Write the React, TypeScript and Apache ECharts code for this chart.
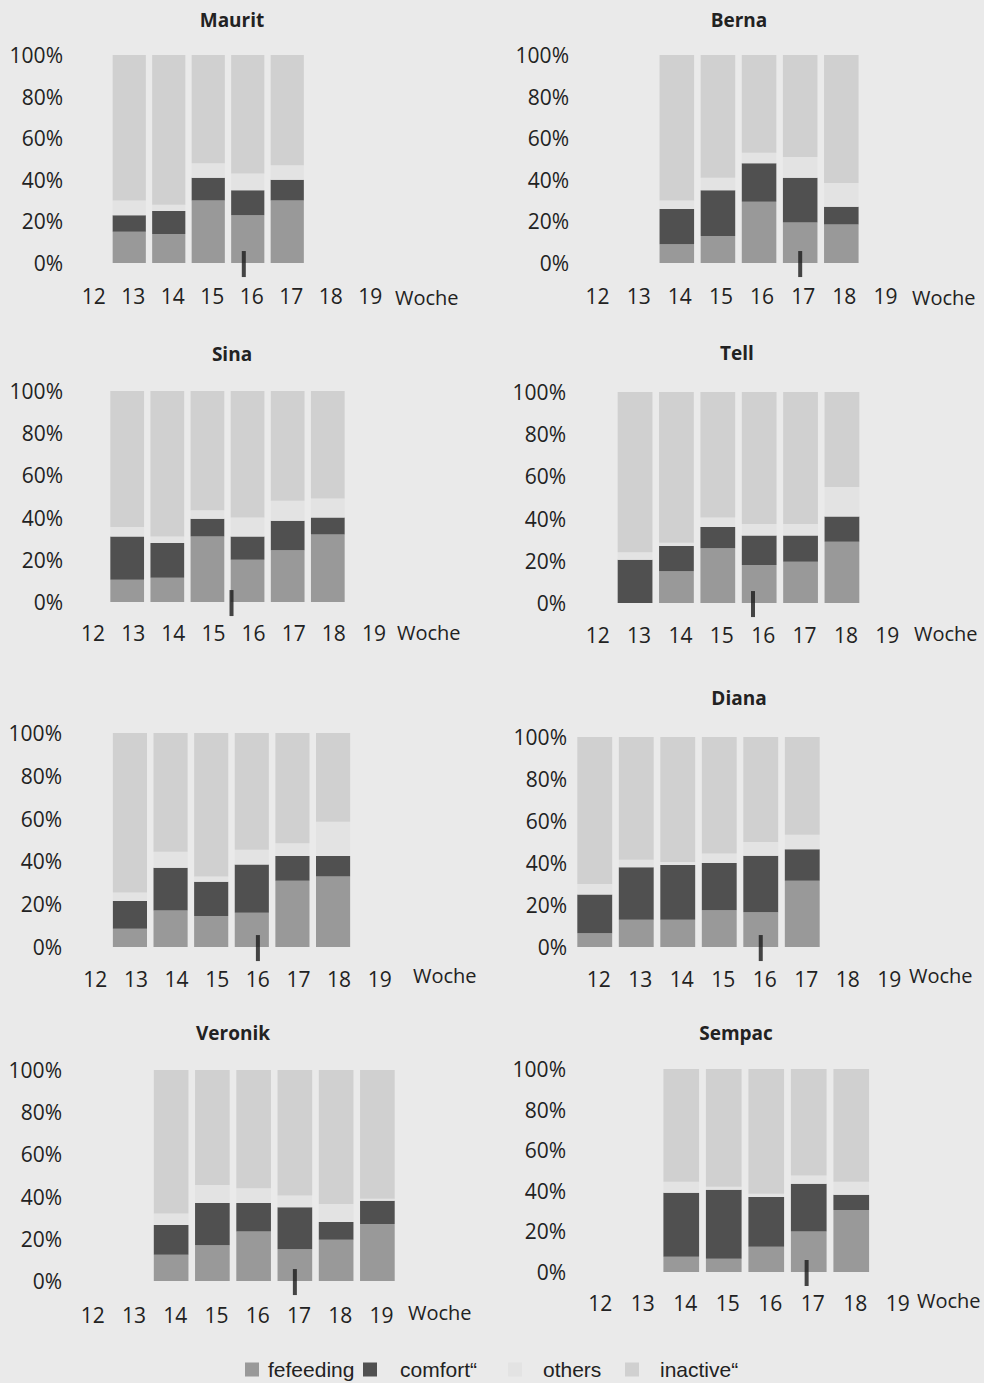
import React, { useEffect, useRef } from "react";
import * as echarts from "echarts";

// ---------- data ----------
const weeks = ["12", "13", "14", "15", "16", "17", "18", "19"];
const panelTitles = ["Maurit", "Berna", "Sina", "Tell", "", "Diana", "Veronik", "Sempac"];
const seriesNames = ["feeding", "comfort", "others", "inactive"];
const legendLabels = ["fefeeding", "comfort\u201c", "others", "inactive\u201c"];

const feedingMaurit = [null, 15, 14, 30, 23, 30, null, null];
const comfortMaurit = [null, 8, 11, 11, 12, 10, null, null];
const othersMaurit = [null, 7, 3, 7, 8, 7, null, null];

const feedingBerna = [null, null, 9, 13, 29.5, 19.5, 18.5, null];
const comfortBerna = [null, null, 17, 22, 18.5, 21.5, 8.5, null];
const othersBerna = [null, null, 4, 6, 5, 10, 11.5, null];

const feedingSina = [null, 10.5, 11.5, 31, 20, 24.5, 32, null];
const comfortSina = [null, 20.5, 16.5, 8.5, 11, 14, 8, null];
const othersSina = [null, 4.5, 3, 4, 9, 9.5, 9, null];

const feedingTell = [null, 0, 15, 26, 18, 19.5, 29, null];
const comfortTell = [null, 20.5, 12, 10, 14, 12.5, 12, null];
const othersTell = [null, 3.5, 1.5, 4.5, 5.5, 5.5, 14, null];

const feedingP5 = [null, 8.5, 17, 14.5, 16, 31, 33, null];
const comfortP5 = [null, 13, 20, 16, 22.5, 11.5, 9.5, null];
const othersP5 = [null, 4, 7.5, 2.5, 7, 6, 16, null];

const feedingDiana = [6.5, 13, 13, 17.5, 16.5, 31.5, null, null];
const comfortDiana = [18.5, 25, 26, 22.5, 27, 15, null, null];
const othersDiana = [5, 3.5, 1.5, 4.5, 6.5, 7, null, null];

const feedingVeronik = [null, null, 12.5, 17, 23.5, 15, 19.5, 27];
const comfortVeronik = [null, null, 14, 20, 13.5, 20, 8.5, 11];
const othersVeronik = [null, null, 5.5, 8.5, 7, 5.5, 8.5, 1];

const feedingSempac = [null, null, 7.5, 6.5, 12.5, 20, 30.5, null];
const comfortSempac = [null, null, 31.5, 34, 24.5, 23.5, 7.5, null];
const othersSempac = [null, null, 5.5, 1.5, 1.5, 4, 6.5, null];

// week position (index into weeks) of the event marker per panel
const markerWeekIndex = [3.9, 5, 3.6, 3.85, 4.15, 4, 5, 4.95];

const panelData = [
  [feedingMaurit, comfortMaurit, othersMaurit],
  [feedingBerna, comfortBerna, othersBerna],
  [feedingSina, comfortSina, othersSina],
  [feedingTell, comfortTell, othersTell],
  [feedingP5, comfortP5, othersP5],
  [feedingDiana, comfortDiana, othersDiana],
  [feedingVeronik, comfortVeronik, othersVeronik],
  [feedingSempac, comfortSempac, othersSempac],
];

// ---------- layout ----------
const grids = [
  { left: 70, top: 55, width: 316, height: 208 },
  { left: 574, top: 55, width: 329, height: 208 },
  { left: 67, top: 391, width: 321, height: 211 },
  { left: 573, top: 392, width: 331, height: 211 },
  { left: 69, top: 733, width: 325, height: 214 },
  { left: 574, top: 737, width: 332, height: 210 },
  { left: 68, top: 1070, width: 330, height: 211 },
  { left: 575, top: 1069, width: 340, height: 203 },
];
const yLabelMargin = [7, 5, 4, 7, 7, 7, 6, 9];
const xLabelShift = [4, 3, 6, 4, 6, 4, 4, 4];
const xLabelMargin = [22, 22, 20, 21, 21, 21, 23, 20];
const titlePos = [
  [232, 20], [739, 20], [232, 354], [737, 353], [0, 0], [739, 698], [233, 1033], [736, 1033],
];
const wochePos = [
  [395, 297], [912, 297], [397, 632], [914, 633], [413, 975], [909, 975], [408, 1312], [917, 1300],
];
const legendLeft = [245, 363, 508, 625];
const legendTextPad = [4, 18, 16, 16];

const colors = ["#999999", "#505050", "#e3e3e3", "#d0d0d0"];
const FONT = "Open Sans";
const TEXT = "#222";

export default function App() {
  const ref = useRef<HTMLDivElement>(null);
  useEffect(() => {
    const chart = echarts.init(ref.current as HTMLDivElement, null, { renderer: "svg" });

    const grid: any[] = [];
    const xAxis: any[] = [];
    const yAxis: any[] = [];
    const series: any[] = [];
    const graphic: any[] = [];

    panelData.forEach((arrs, i) => {
      grid.push({ ...grids[i], containLabel: false });
      xAxis.push({
        type: "category",
        gridIndex: i,
        data: weeks,
        axisLine: { show: false },
        axisTick: { show: false },
        axisLabel: {
          margin: xLabelMargin[i],
          fontFamily: FONT,
          fontSize: 21,
          color: TEXT,
          padding: [0, 0, 0, xLabelShift[i] * 2],
          interval: 0,
        },
      });
      // hidden continuous axis used to place the event marker between weeks
      xAxis.push({
        type: "value",
        gridIndex: i,
        min: -0.5,
        max: weeks.length - 0.5,
        show: false,
      });
      yAxis.push({
        type: "value",
        gridIndex: i,
        min: 0,
        max: 100,
        interval: 20,
        splitLine: { show: false },
        axisLine: { show: false },
        axisTick: { show: false },
        axisLabel: {
          formatter: "{value}%",
          margin: yLabelMargin[i],
          fontFamily: FONT,
          fontSize: 21,
          color: TEXT,
        },
      });
      const [f, c, o] = arrs;
      const inactive = f.map((v, k) =>
        v == null ? null : 100 - (v as number) - (c[k] as number) - (o[k] as number)
      );
      const vals = [f, c, o, inactive];
      seriesNames.forEach((nm, s) => {
        series.push({
          type: "bar",
          name: nm,
          xAxisIndex: 2 * i,
          yAxisIndex: i,
          stack: "p" + i,
          barWidth: "84%",
          data: vals[s],
          itemStyle: { color: colors[s] },
          emphasis: { disabled: true },
        });
      });
      series.push({
        type: "scatter",
        xAxisIndex: 2 * i + 1,
        yAxisIndex: i,
        symbol: "rect",
        symbolSize: [4, 26],
        clip: false,
        z: 5,
        itemStyle: { color: "#1a1a1a" },
        data: [[markerWeekIndex[i], -0.5]],
        silent: true,
      });
      if (panelTitles[i]) {
        graphic.push({
          type: "text",
          x: titlePos[i][0],
          y: titlePos[i][1],
          style: {
            text: panelTitles[i],
            fontFamily: FONT,
            fontWeight: "bold",
            fontSize: 19,
            fill: TEXT,
            textAlign: "center",
            textVerticalAlign: "middle",
            verticalAlign: "middle",
          },
        });
      }
      graphic.push({
        type: "text",
        x: wochePos[i][0],
        y: wochePos[i][1],
        style: {
          text: "Woche",
          fontFamily: FONT,
          fontSize: 20,
          fill: TEXT,
          textAlign: "left",
          textVerticalAlign: "middle",
          verticalAlign: "middle",
        },
      });
    });

    const legend = seriesNames.map((nm, k) => ({
      data: [{ name: nm, icon: "rect" }],
      left: legendLeft[k],
      top: 1359,
      padding: 0,
      itemWidth: 14,
      itemHeight: 14,
      selectedMode: false,
      formatter: () => legendLabels[k],
      textStyle: {
        fontFamily: "Liberation Sans",
        fontSize: 21,
        color: TEXT,
        padding: [0, 0, 0, legendTextPad[k]],
      },
    }));

    chart.setOption({
      animation: false,
      backgroundColor: "#eaeaea",
      grid,
      xAxis,
      yAxis,
      series,
      legend,
      graphic,
    });
    return () => chart.dispose();
  }, []);
  return (
    <div
      ref={ref}
      style={{ position: "absolute", left: 0, top: 0, width: 984, height: 1383 }}
    />
  );
}
